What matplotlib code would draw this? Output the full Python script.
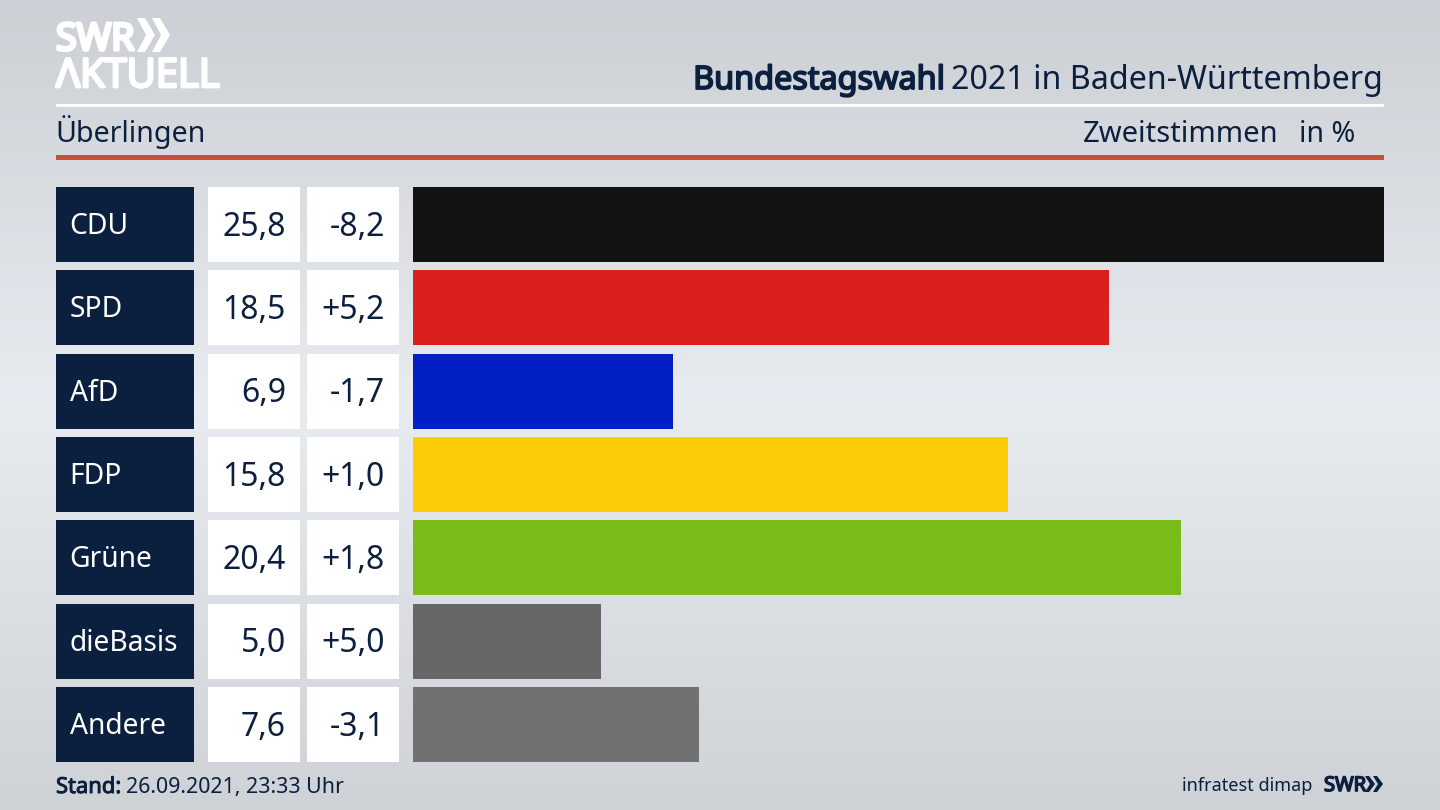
# -*- coding: utf-8 -*-
import numpy as np
import matplotlib
matplotlib.use('Agg')
import matplotlib.pyplot as plt
import matplotlib.patheffects as pe
from matplotlib.patches import Rectangle, Polygon

# data
parties = ['CDU', 'SPD', 'AfD', 'FDP', 'Grüne', 'dieBasis', 'Andere']
values = [25.8, 18.5, 6.9, 15.8, 20.4, 5.0, 7.6]
value_labels = ['25,8', '18,5', '6,9', '15,8', '20,4', '5,0', '7,6']
change_labels = ['-8,2', '+5,2', '-1,7', '+1,0', '+1,8', '+5,0', '-3,1']
colors = ['#121212', '#d9201f', '#0020c6', '#fdcb08', '#79bc1a', '#676767', '#717172']

NAVY = '#0b1f3f'
plt.rcParams['font.family'] = ['Noto Sans', 'DejaVu Sans']


def heavy(color, width):
    # the installed fonts have no usable bold here, so thicken the outline
    return [pe.withStroke(linewidth=width, foreground=color)]


fig = plt.figure(figsize=(14.4, 8.1), dpi=100)

# background and all furniture live in one pixel-coordinate axes
bg = fig.add_axes([0, 0, 1, 1])
bg.set_xlim(0, 1440)
bg.set_ylim(810, 0)
bg.axis('off')

grad = np.interp(np.linspace(0, 1, 256), [0, 0.5, 1], [0.80, 0.91, 0.81])
grad_rgb = np.stack([grad, grad + 0.012, grad + 0.032], axis=1).clip(0, 1)[:, None, :]
bg.imshow(grad_rgb, extent=[0, 1440, 810, 0], aspect='auto', zorder=0)

# logo
bg.text(56, 50, 'SWR', color='white', fontsize=27, va='baseline', family='Open Sans',
        path_effects=heavy('white', 2.5), zorder=3)
for x0 in (137, 152):
    bg.add_patch(Polygon([(x0, 18), (x0 + 8, 18), (x0 + 18, 35), (x0 + 8, 52), (x0, 52), (x0 + 9, 35)],
                         facecolor='white', lw=0, zorder=3))
bg.text(56, 87, 'ΛKTUELL', color='white', fontsize=28.8, va='baseline', family='Open Sans',
        path_effects=heavy('white', 2), zorder=3)

# header
bg.add_patch(Rectangle((56, 104), 1328, 3, facecolor='white', lw=0, zorder=2))
bg.add_patch(Rectangle((56, 155), 1328, 5, facecolor='#c8503c', lw=0, zorder=2))
bg.text(1383, 89, '2021 in Baden-Württemberg', color=NAVY, fontsize=23.2, ha='right', va='baseline')
bg.text(945, 89, 'Bundestagswahl', color=NAVY, fontsize=23.3, ha='right', va='baseline',
        path_effects=heavy(NAVY, 1.3))
bg.text(55.5, 142, 'Überlingen', color=NAVY, fontsize=20.6, va='baseline')
bg.text(1278, 142, 'Zweitstimmen', color=NAVY, fontsize=21, ha='right', va='baseline')
bg.text(1355, 142, 'in %', color=NAVY, fontsize=20.6, ha='right', va='baseline')

# bars
ax = fig.add_axes([413 / 1440, 1 - 762 / 810, 971 / 1440, 575 / 810])
ax.patch.set_alpha(0)
y = np.arange(len(parties))
ax.barh(y, values, height=0.902, color=colors)
ax.set_xlim(0, 25.8)
ax.set_ylim(6.451, -0.451)
ax.axis('off')

# label cells, same rows as the bars
for i, party in enumerate(parties):
    top = 187 + i * (575 - 75) / 6
    base = top + 37.5 + 11
    bg.add_patch(Rectangle((56, top), 138, 75, facecolor=NAVY, lw=0, zorder=2))
    bg.add_patch(Rectangle((208, top), 92, 75, facecolor='white', lw=0, zorder=2))
    bg.add_patch(Rectangle((307, top), 92, 75, facecolor='white', lw=0, zorder=2))
    bg.text(69.5, base - 1.5, party, color='white', fontsize=20.3, va='baseline', zorder=3)
    bg.text(286, base, value_labels[i], color=NAVY, fontsize=23, ha='right', va='baseline', zorder=3)
    bg.text(385, base, change_labels[i], color=NAVY, fontsize=23, ha='right', va='baseline', zorder=3)

# footer
bg.text(56, 793, 'Stand:', color=NAVY, fontsize=15.8, va='baseline', path_effects=heavy(NAVY, 0.7))
bg.text(126, 793, '26.09.2021, 23:33 Uhr', color=NAVY, fontsize=15.4, va='baseline')
bg.text(1312, 791, 'infratest dimap', color=NAVY, fontsize=13, ha='right', va='baseline')
bg.text(1324, 791, 'SWR', color=NAVY, fontsize=14.5, va='baseline', family='Open Sans',
        path_effects=heavy(NAVY, 1.2))
for x0 in (1365, 1373):
    bg.add_patch(Polygon([(x0, 776), (x0 + 4, 776), (x0 + 10, 784), (x0 + 4, 792), (x0, 792), (x0 + 5, 784)],
                         facecolor=NAVY, lw=0, zorder=3))

fig.savefig('out.png', dpi=100)
